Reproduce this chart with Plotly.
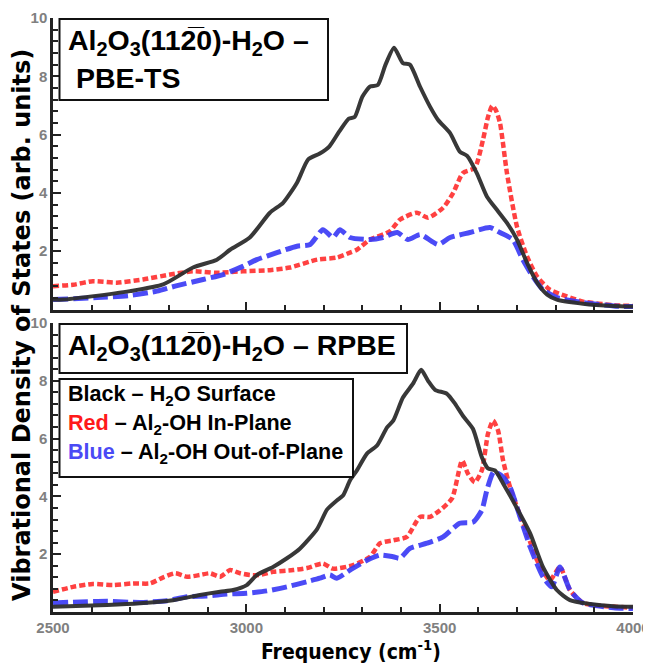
import plotly.graph_objects as go

# ---------------- data ----------------
# Top panel: Al2O3(11-20)-H2O, PBE-TS
pbe_black_x = [2500, 2526, 2600, 2699, 2785, 2862, 2924, 2958, 3009, 3061, 3095, 3131, 3160, 3190, 3215,
               3240, 3265, 3280, 3300, 3320, 3340, 3360, 3382, 3405, 3423, 3449, 3475, 3496, 3527, 3552,
               3571, 3596, 3622, 3648, 3674, 3700, 3726, 3752, 3778, 3803, 3871, 3950, 4000]
pbe_black_y = [0.34, 0.34, 0.45, 0.63, 0.86, 1.44, 1.71, 2.05, 2.47, 3.32, 3.66, 4.35, 5.15, 5.35, 5.6,
               6.1, 6.55, 6.6, 7.3, 7.65, 7.7, 8.4, 8.98, 8.45, 8.4, 7.65, 6.96, 6.5, 6.05, 5.42,
               5.27, 4.68, 3.88, 3.42, 2.97, 2.4, 1.6, 0.92, 0.51, 0.34, 0.2, 0.12, 0.1]

pbe_red_x = [2500, 2552, 2603, 2665, 2733, 2803, 2862, 2924, 2991, 3061, 3113, 3183, 3234, 3268, 3286,
             3320, 3371, 3397, 3441, 3470, 3509, 3535, 3560, 3591, 3612, 3625, 3636, 3645, 3656, 3674,
             3700, 3726, 3752, 3785, 3829, 3871, 3950, 4000]
pbe_red_y = [0.8, 0.85, 0.97, 0.92, 1.03, 1.2, 1.31, 1.26, 1.31, 1.35, 1.44, 1.71, 1.78, 1.95, 2.05,
             2.4, 2.68, 3.08, 3.32, 3.15, 3.49, 4.0, 4.68, 4.86, 5.82, 6.6, 6.99, 6.85, 6.4, 4.68,
             2.84, 1.82, 1.13, 0.68, 0.45, 0.27, 0.15, 0.12]

pbe_blue_x = [2500, 2614, 2699, 2769, 2821, 2888, 2940, 2991, 3027, 3079, 3131, 3165, 3198, 3224, 3242,
              3268, 3320, 3353, 3390, 3418, 3450, 3496, 3527, 3578, 3630, 3656, 3689, 3715, 3741, 3767,
              3803, 3871, 3950, 4000]
pbe_blue_y = [0.34, 0.41, 0.48, 0.63, 0.82, 1.03, 1.2, 1.48, 1.71, 1.95, 2.17, 2.23, 2.74, 2.47, 2.74,
              2.47, 2.4, 2.47, 2.64, 2.4, 2.57, 2.23, 2.47, 2.64, 2.81, 2.64, 2.4, 1.71, 1.13, 0.68,
              0.41, 0.24, 0.12, 0.1]

# Bottom panel: Al2O3(11-20)-H2O, RPBE
rpbe_black_x = [2500, 2640, 2725, 2810, 2880, 2932, 2966, 3001, 3027, 3069, 3105, 3139, 3183, 3209, 3234,
                3250, 3268, 3286, 3312, 3338, 3364, 3380, 3405, 3431, 3452, 3470, 3488, 3519, 3540, 3560,
                3586, 3609, 3625, 3643, 3664, 3700, 3734, 3767, 3803, 3837, 3889, 3950, 4000]
rpbe_black_y = [0.18, 0.24, 0.3, 0.41, 0.59, 0.7, 0.76, 0.93, 1.28, 1.56, 1.86, 2.2, 2.87, 3.55, 3.86,
                4.03, 4.55, 4.9, 5.48, 5.76, 6.39, 6.62, 7.42, 7.9, 8.38, 8.0, 7.69, 7.55, 7.2, 6.79,
                6.34, 5.36, 4.97, 4.9, 4.45, 3.59, 2.72, 1.56, 0.76, 0.41, 0.28, 0.2, 0.18]

rpbe_red_x = [2500, 2552, 2603, 2655, 2707, 2751, 2785, 2816, 2847, 2880, 2906, 2932, 2958, 2984, 3009,
              3035, 3069, 3121, 3157, 3198, 3224, 3276, 3320, 3346, 3380, 3415, 3449, 3475, 3501, 3532,
              3558, 3573, 3591, 3609, 3625, 3638, 3651, 3664, 3682, 3700, 3726, 3752, 3785, 3811, 3837,
              3871, 3922, 4000]
rpbe_red_y = [0.7, 0.87, 0.97, 0.93, 0.99, 0.99, 1.2, 1.34, 1.22, 1.28, 1.34, 1.22, 1.45, 1.34, 1.28,
              1.28, 1.39, 1.45, 1.52, 1.68, 1.5, 1.62, 1.91, 2.38, 2.48, 2.6, 3.29, 3.29, 3.52, 3.93,
              5.24, 4.79, 4.49, 4.9, 6.17, 6.62, 6.28, 5.24, 4.32, 3.63, 2.72, 1.79, 1.1, 1.56, 0.76,
              0.31, 0.21, 0.15]

rpbe_blue_x = [2500, 2552, 2640, 2725, 2795, 2847, 2898, 2950, 3001, 3053, 3105, 3157, 3190, 3216, 3234,
               3268, 3312, 3346, 3380, 3397, 3423, 3467, 3509, 3552, 3586, 3609, 3622, 3640, 3664, 3682,
               3708, 3734, 3767, 3790, 3811, 3837, 3871, 3950, 4000]
rpbe_blue_y = [0.31, 0.34, 0.37, 0.33, 0.39, 0.53, 0.55, 0.62, 0.65, 0.73, 0.87, 1.05, 1.17, 1.28, 1.17,
               1.45, 1.79, 1.97, 1.91, 1.86, 2.2, 2.38, 2.6, 3.07, 3.11, 3.52, 4.21, 4.85, 4.67, 4.32,
               3.29, 2.25, 1.22, 0.87, 1.56, 0.76, 0.31, 0.15, 0.12]

x_tick_vals = [2500, 3000, 3500, 4000]
x_tick_text = ["2500", "3000", "3500", "4000"]
y_tick_vals = [2, 4, 6, 8, 10]
y_tick_text = ["2", "4", "6", "8", "10"]

top_title_1 = "Al<sub>2</sub>O<sub>3</sub>(112\u03050)-H<sub>2</sub>O \u2013"
top_title_2 = "PBE-TS"
bottom_title = "Al<sub>2</sub>O<sub>3</sub>(112\u03050)-H<sub>2</sub>O \u2013 RPBE"
legend_lines = [
    "Black \u2013 H<sub>2</sub>O Surface",
    "<span style='color:#ff1a1a'>Red</span> \u2013 Al<sub>2</sub>-OH In-Plane",
    "<span style='color:#4a4af5'>Blue</span> \u2013 Al<sub>2</sub>-OH Out-of-Plane",
]
y_title = "Vibrational Density of States (arb. units)"
x_title = "Frequency (cm<sup>-1</sup>)"

# ---------------- styles ----------------
BLACK = dict(color="rgba(45,45,45,0.95)", width=4, dash="solid")
RED = dict(color="rgba(255,55,55,0.95)", width=4.5, dash="6px,3px")
BLUE = dict(color="rgba(55,55,245,0.9)", width=5, dash="15px,5px")

fig = go.Figure()
for xs, ys, ln, xa, ya in [
    (pbe_red_x, pbe_red_y, RED, "x", "y"),
    (pbe_blue_x, pbe_blue_y, BLUE, "x", "y"),
    (pbe_black_x, pbe_black_y, BLACK, "x", "y"),
    (rpbe_red_x, rpbe_red_y, RED, "x2", "y2"),
    (rpbe_blue_x, rpbe_blue_y, BLUE, "x2", "y2"),
    (rpbe_black_x, rpbe_black_y, BLACK, "x2", "y2"),
]:
    fig.add_trace(go.Scatter(x=xs, y=ys, mode="lines", line=dict(shape="spline", smoothing=0.6, **ln),
                             xaxis=xa, yaxis=ya, showlegend=False, hoverinfo="skip"))

tickfont = dict(family="Liberation Sans, Arial, sans-serif", size=15, color="#808080", weight="bold")

def xaxis_cfg(labels, anchor):
    return dict(range=[2500, 4000], domain=[0, 1], anchor=anchor, automargin=False,
                showline=True, linecolor="#222", linewidth=2.5, mirror=False,
                ticks="inside", ticklen=8, tickwidth=1.5, tickcolor="#222",
                tickmode="array", tickvals=x_tick_vals, ticktext=x_tick_text,
                showticklabels=labels, tickfont=tickfont,
                minor=dict(dtick=100, tick0=2500, ticks="inside", ticklen=5, tickwidth=1.5, tickcolor="#222"),
                showgrid=False, zeroline=False)

def yaxis_cfg(domain, anchor):
    return dict(range=[0, 10], domain=domain, anchor=anchor, automargin=False,
                showline=True, linecolor="#222", linewidth=2.5,
                ticks="inside", ticklen=8, tickwidth=1.5, tickcolor="#222",
                tickmode="array", tickvals=y_tick_vals, ticktext=y_tick_text,
                tickfont=tickfont,
                minor=dict(dtick=0.4, tick0=0, ticks="inside", ticklen=5, tickwidth=1.5, tickcolor="#222"),
                showgrid=False, zeroline=False)

# page is drawn with an 8px body offset; size the figure so the plot area lands on
# page pixels x 53..633, y 18..612
OFF = 8
W, H = 651 - OFF, 665 - OFF
L, T = 53 - OFF, 18 - OFF
PW, PH = 580, 594
R, B = W - L - PW, H - T - PH

def px(xp):
    return (xp - 53) / PW

def py(yp):
    return (612 - yp) / PH

fig.update_layout(
    width=W, height=H,
    margin=dict(l=L, r=R, t=T, b=B),
    paper_bgcolor="white", plot_bgcolor="white",
    xaxis=xaxis_cfg(False, "y"),
    yaxis=yaxis_cfg([py(309.5), 1.0], "x"),
    xaxis2=xaxis_cfg(True, "y2"),
    yaxis2=yaxis_cfg([0, py(323)], "x2"),
)

box = dict(type="rect", xref="paper", yref="paper", line=dict(color="#111", width=2),
           fillcolor="white", layer="above")
fig.add_shape(x0=px(59.5), x1=px(328), y0=py(100), y1=py(19), **box)
fig.add_shape(x0=px(59.5), x1=px(407), y0=py(373), y1=py(324), **box)
fig.add_shape(x0=px(59.5), x1=px(353), y0=py(477), y1=py(379), **box)

titlefont = dict(family="Liberation Sans, Arial, sans-serif", size=28.5, color="black", weight="bold")
legfont = dict(family="Liberation Sans, Arial, sans-serif", size=21.6, color="black", weight="bold")

def ann(text, x, y, font, **kw):
    fig.add_annotation(text=text, xref="paper", yref="paper", x=x, y=y, showarrow=False,
                       xanchor=kw.pop("xanchor", "left"), yanchor=kw.pop("yanchor", "middle"),
                       font=font, **kw)

ann(top_title_1, px(66), py(42), titlefont)
ann(top_title_2, px(74), py(78), titlefont)
ann(bottom_title, px(66), py(347), titlefont)
for t, yy in zip(legend_lines, [395, 424, 453]):
    ann(t, px(66), py(yy), legfont)

ann(y_title, px(22), py(325), dict(family="DejaVu Sans, sans-serif", size=24, color="black", weight="bold"),
    xanchor="center", textangle=-90)
ann(x_title, px(351), py(650), dict(family="Liberation Sans Narrow, DejaVu Sans Condensed, sans-serif",
                                     size=21, color="black", weight="bold"), xanchor="center")

fig.write_html("out.html")
